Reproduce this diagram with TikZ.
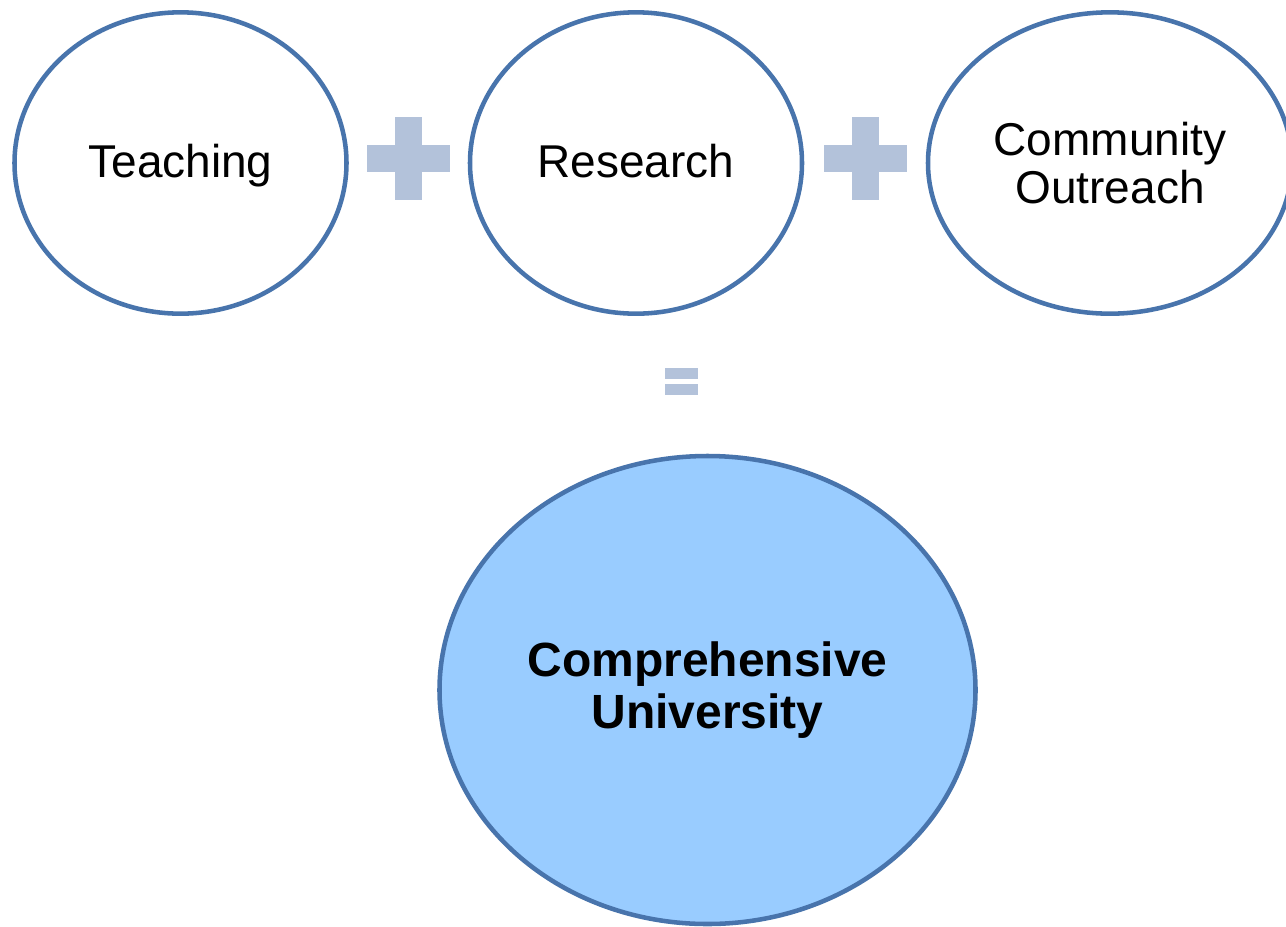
\documentclass[tikz,border=0pt]{standalone}
\usepackage{fontspec}
\setmainfont{Liberation Sans}
\usetikzlibrary{shapes.geometric}

\definecolor{rimblue}{RGB}{72,116,172}
\definecolor{signblue}{RGB}{179,194,218}
\definecolor{unifill}{RGB}{153,204,255}

\tikzset{
  pillar/.style  = {shape=ellipse, draw=rimblue, line width=3.4pt,
                    fill=white, inner sep=0pt, align=center,
                    font=\fontsize{34.5}{36}\selectfont,
                    minimum width=249pt, minimum height=226pt},
  oneline/.style = {pillar, text height=24.7pt, text depth=3.7pt},
  result/.style  = {pillar, fill=unifill,
                    font=\fontsize{36}{38.5}\selectfont\bfseries,
                    minimum width=402pt, minimum height=351pt},
  signbar/.style = {shape=rectangle, fill=signblue, inner sep=0pt},
  hbar/.style    = {signbar, minimum width=62.25pt, minimum height=20.25pt},
  vbar/.style    = {signbar, minimum width=20.25pt, minimum height=62.25pt},
  eqbar/.style   = {signbar, minimum width=24.75pt, minimum height=8.25pt}
}

\begin{document}
\begin{tikzpicture}[x=0.75pt,y=-0.75pt]
\useasboundingbox (0,0) rectangle (1286,926);

% the three parts
\node [oneline] (teach)    at (180.5,163) {Teaching};
\node [oneline] (research) at (636,163)   {Research};
\node [pillar, minimum width=273pt] (outreach) at (1110,163) {Community\\Outreach};

% plus signs
\node [hbar] (plusA-h) at (408.5,158) {};
\node [vbar] (plusA-v) at (408.5,158) {};
\node [hbar] (plusB-h) at (865.5,158) {};
\node [vbar] (plusB-v) at (865.5,158) {};

% equals sign
\node [eqbar] (eq-top) at (681.5,373.5) {};
\node [eqbar] (eq-bot) at (681.5,389.5) {};

% the sum
\node [result] (univ) at (707.5,690) {Comprehensive\\University};
\end{tikzpicture}
\end{document}
